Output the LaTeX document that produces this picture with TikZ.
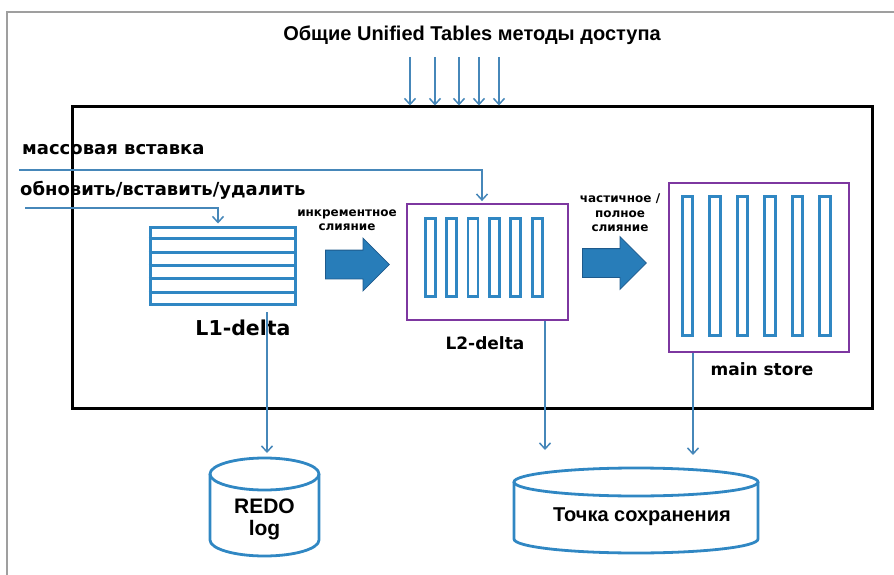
\documentclass[tikz,border=0pt]{standalone}
\usepackage{fontspec}
\newfontfamily\dejavu{DejaVu Sans}
\newfontfamily\arialish{Liberation Sans}
\usepackage{xcolor}
\definecolor{LINECOLOR}{RGB}{70,135,185}
\definecolor{BARCOLOR}{RGB}{48,135,195}
\definecolor{BOXCOLOR}{RGB}{125,55,160}
\definecolor{MERGECOLOR}{RGB}{40,125,185}
\definecolor{MERGEEDGE}{RGB}{30,90,140}
\colorlet{PAGECOLOR}{gray!75}
\usepackage{tikz}
\usetikzlibrary{shapes.arrows,arrows.meta,positioning,calc}
\tikzset{
  frame-style/.style = {
    draw=black, line width=3pt, inner sep=0pt,
    minimum width=800pt, minimum height=301pt
  },
  delta-style/.style = {
    draw=BOXCOLOR, line width=2.8pt, inner sep=0pt
  },
  rows-style/.style = {
    draw=BARCOLOR, line width=3pt, inner sep=0pt,
    minimum width=145pt, minimum height=77pt
  },
  bar-style/.style = {
    draw=BARCOLOR, line width=2.8pt
  },
  drum-style/.style = {
    draw=BARCOLOR, line width=2.8pt
  },
  merge-style/.style = {
    single arrow, draw=MERGEEDGE, fill=MERGECOLOR, line width=0.8pt,
    inner xsep=0pt, inner ysep=14pt, minimum height=64pt,
    single arrow head extend=12pt, anchor=west
  },
  label-style/.style = {
    font=\dejavu\bfseries\fontsize{#1}{#1}\selectfont, inner sep=0pt
  },
  label-style/.default = 18,
  small-style/.style = {
    font=\dejavu\bfseries\fontsize{12}{14.5}\selectfont,
    align=center, inner sep=0pt
  },
  store-text/.style = {
    font=\arialish\bfseries\fontsize{#1}{22}\selectfont,
    align=center, inner sep=0pt
  },
  page-style/.style = {
    draw=PAGECOLOR, line width=2pt
  },
  elbow/.style = {
    to path={-| (\tikztotarget)}
  },
  every edge/.style = {
    draw=LINECOLOR, line width=1.5pt,
    -{Straight Barb[length=6pt,width=11pt]}
  }
}
\newcommand\drawDrum[6]{
  % #1 name, #2 x, #3 y of lid, #4 y of base, #5 x radius, #6 y radius
  \draw[drum-style] (#2,#3) ellipse [x radius=#5pt, y radius=#6pt];
  \draw[drum-style] ({#2-#5},#3) -- ({#2-#5},#4)
    arc [start angle=180, end angle=360, x radius=#5pt, y radius=#6pt]
    -- ({#2+#5},#3);
  \coordinate (#1-top) at (#2,{#3-#6});
}

\begin{document}
\begin{tikzpicture}[x=1pt,y=-1pt]
    \useasboundingbox (0,0) rectangle (894,575);
    \draw[page-style] (7,575) -- (7,12) -- (894,12);

    %%% title and access arrows
    \node[store-text=20] (title) at (472,35) {Общие Unified Tables методы доступа};

    %%% input texts
    \node[label-style, anchor=west] (bulkText) at (22,150) {массовая вставка};
    \node[label-style, anchor=west] (updText) at (20,190) {обновить/вставить/удалить};
    \coordinate (bulkIn) at (19,170);
    \coordinate (updIn) at (25,208);

    %%% main frame
    \node[frame-style] (frame) at (472,257.5) {};
    \foreach \x [count=\i] in {410,435,459,479,499} {
      \coordinate (acc\i) at (\x,57);
      \path (acc\i) edge (acc\i |- frame.north);
    }

    %%% L1-delta
    \node[rows-style] (l1) at (222.5,265.5) {};
    \foreach \k in {1,...,5}
      \draw[bar-style, line width=3pt] ($(l1.north west)!\k/6!(l1.south west)$) -- ($(l1.north east)!\k/6!(l1.south east)$);
    \node[label-style=20.5] (l1Text) at (243,328) {L1-delta};

    %%% L2-delta
    \node[delta-style, minimum width=161pt, minimum height=116pt] (l2) at (487.5,262) {};
    \foreach \i in {0,...,5}
      \draw[bar-style] ([xshift=19.5pt+\i*21.4pt, yshift=-16pt]l2.north west) rectangle ++(10pt,-78pt);
    \node[label-style=17] (l2Text) at (485,343) {L2-delta};

    %%% main store
    \node[delta-style, minimum width=180pt, minimum height=169pt] (main) at (759,267.5) {};
    \foreach \i in {0,...,5}
      \draw[bar-style] ([xshift=14.5pt+\i*27.5pt, yshift=-15pt]main.north west) rectangle ++(10.5pt,-139pt);
    \node[label-style=17] (mainText) at (762,369) {main store};

    %%% merges
    \node[merge-style] (merge1) at (325,264.5) {};
    \node[small-style] (merge1Text) at (347,220) {инкрементное\\слияние};
    \node[merge-style] (merge2) at (582,263) {};
    \node[small-style] (merge2Text) at (620,213) {частичное /\\полное\\слияние};

    %%% persistence
    \drawDrum{redo}{264.5}{474}{540}{54.5}{16}
    \node[store-text=21] (redoText) at (264.5,519) {REDO\\log};
    \drawDrum{save}{636}{482}{539}{122}{14}
    \node[store-text=20] (saveText) at (642,517) {Точка сохранения};

    %%% arrows
    \coordinate (l2In) at ([xshift=-5.5pt,yshift=1.5pt]l2.north);
    \coordinate (l1In) at ([xshift=-4.5pt,yshift=2pt]l1.north);
    \coordinate (l1Out) at (267,312);
    \coordinate (l2Out) at ([xshift=57.5pt]l2.south);
    \coordinate (mainOut) at ([xshift=-66pt]main.south);
    \path (bulkIn) edge[elbow] (l2In);
    \path (updIn) edge[elbow] (l1In);
    \path (l1Out) edge ([yshift=5pt]l1Out |- redo-top);
    \path (l2Out) edge ([yshift=18pt]l2Out |- save-top);
    \path (mainOut) edge ([yshift=13pt]mainOut |- save-top);
\end{tikzpicture}
\end{document}
